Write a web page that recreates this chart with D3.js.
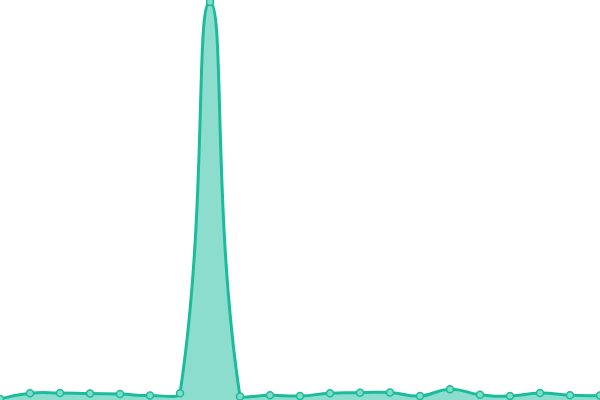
<!DOCTYPE html>
<html>
<head>
<meta charset="utf-8">
<script src="https://cdn.jsdelivr.net/npm/d3@7"></script>
<style>
  html, body { margin: 0; padding: 0; background: #fff; }
  svg { display: block; }
</style>
</head>
<body>
<svg></svg>
<script>
const width = 600, height = 400;

// data
const categories = d3.range(21).map(i => "P" + (i + 1));
const values = [0.25, 1.7, 1.75, 1.6, 1.5, 1.1, 1.7, 99.5, 0.9, 1.2, 1.0,
                1.7, 1.8, 1.9, 1.0, 2.7, 1.3, 1.0, 1.75, 1.2, 1.1];

const lineColor = "#1abc9c";

// smooth bezier curve: control points along the neighbour chord, split by
// segment length, and kept inside the bounding box of the points
function SmoothCurve(context, smooth) {
    this._context = context;
    this._smooth = smooth;
}
SmoothCurve.prototype = {
    areaStart() { this._line = 0; },
    areaEnd() { this._line = NaN; },
    lineStart() { this._pts = []; },
    point(x, y) { this._pts.push([+x, +y]); },
    lineEnd() {
        const pts = this._pts, n = pts.length, ctx = this._context, s = this._smooth;
        if (n) {
            const minX = d3.min(pts, p => p[0]), maxX = d3.max(pts, p => p[0]);
            const minY = d3.min(pts, p => p[1]), maxY = d3.max(pts, p => p[1]);
            const clamp = p => [Math.max(minX, Math.min(maxX, p[0])),
                                Math.max(minY, Math.min(maxY, p[1]))];
            this._line ? ctx.lineTo(pts[0][0], pts[0][1]) : ctx.moveTo(pts[0][0], pts[0][1]);
            let cp0 = pts[0].slice();
            for (let i = 1; i < n; i++) {
                const p = pts[i], prev = pts[i - 1], next = pts[i + 1];
                let cp1 = p.slice(), ratio = 0.5, v = [0, 0];
                if (next) {
                    v = [next[0] - prev[0], next[1] - prev[1]];
                    const lp = Math.hypot(p[0] - prev[0], p[1] - prev[1]);
                    const ln = Math.hypot(p[0] - next[0], p[1] - next[1]);
                    ratio = ln / (ln + lp);
                    cp1 = [p[0] - v[0] * s * (1 - ratio), p[1] - v[1] * s * (1 - ratio)];
                }
                const a = clamp(cp0), b = clamp(cp1);
                ctx.bezierCurveTo(a[0], a[1], b[0], b[1], p[0], p[1]);
                cp0 = [p[0] + v[0] * s * ratio, p[1] + v[1] * s * ratio];
            }
        }
        if (this._line || (this._line !== 0 && n === 1)) ctx.closePath();
        this._line = 1 - this._line;
    }
};
const curveSmooth = context => new SmoothCurve(context, 0.5);

const svg = d3.select("svg")
    .attr("width", width)
    .attr("height", height);

const x = d3.scalePoint().domain(categories).range([0, width]);
const y = d3.scaleLinear().domain([0, 100]).range([height, 0]);

const data = categories.map((c, i) => ({ c, v: values[i] }));

// area under the line
svg.append("path")
    .datum(data)
    .attr("fill", lineColor)
    .attr("fill-opacity", 0.5)
    .attr("d", d3.area()
        .curve(curveSmooth)
        .x(d => x(d.c))
        .y0(y(0))
        .y1(d => y(d.v)));

svg.append("path")
    .datum(data)
    .attr("fill", "none")
    .attr("stroke", lineColor)
    .attr("stroke-width", 3)
    .attr("stroke-linejoin", "round")
    .attr("d", d3.line()
        .curve(curveSmooth)
        .x(d => x(d.c))
        .y(d => y(d.v)));

// points
svg.append("g")
    .selectAll("circle")
    .data(data)
    .enter().append("circle")
    .attr("cx", d => x(d.c))
    .attr("cy", d => y(d.v))
    .attr("r", 3.5)
    .attr("fill", "#7fdcc6")
    .attr("stroke", lineColor)
    .attr("stroke-width", 1.5);
</script>
</body>
</html>
